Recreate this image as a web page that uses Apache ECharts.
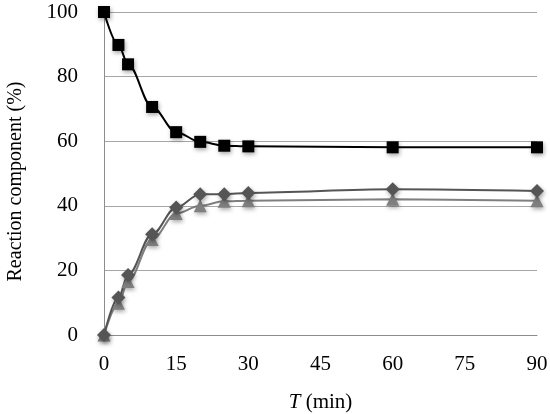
<!DOCTYPE html>
<html style="height: 100%">
<head>
<meta charset="utf-8">
<script src="https://cdn.jsdelivr.net/npm/echarts@6/dist/echarts.min.js"></script>
</head>
<body style="height: 100%; margin: 0; background: #fff">
<div id="container" style="width: 550px; height: 414px"></div>
<script type="text/javascript">
var times = [0, 3, 5, 10, 15, 20, 25, 30, 60, 90];
var squareVals = [100, 89.8, 83.8, 70.6, 62.8, 59.8, 58.6, 58.4, 58.1, 58.1];
var diamondVals = [0, 11.6, 18.6, 31.2, 39.5, 43.6, 43.6, 44.0, 45.1, 44.6];
var triangleVals = [0, 9.8, 16.6, 29.6, 37.6, 40.0, 41.4, 41.6, 42.0, 41.6];
var xTicks = [0, 15, 30, 45, 60, 75, 90];

function pairs(vals) {
    return times.map(function (t, i) { return [t, vals[i]]; });
}

var font = "'Liberation Serif', 'Times New Roman', serif";
var fs = 21;
var shadow = { shadowBlur: 4, shadowColor: 'rgba(0,0,0,0.35)', shadowOffsetX: 1, shadowOffsetY: 2 };

function makeSeries(vals, color, symbol, size) {
    return {
        type: 'line',
        data: pairs(vals),
        smooth: 0.35,
        smoothMonotone: 'x',
        symbol: symbol,
        symbolSize: size,
        showAllSymbol: true,
        lineStyle: { color: color, width: 2 },
        itemStyle: Object.assign({ color: color, opacity: 1 }, shadow),
        animation: false
    };
}

var chart = echarts.init(document.getElementById('container'));
var option = {
    backgroundColor: '#fff',
    animation: false,
    grid: { left: 104, right: 13, top: 12, bottom: 79, containLabel: false, outerBoundsMode: 'none' },
    xAxis: {
        type: 'value',
        min: 0,
        max: 90,
        interval: 15,
        name: '{i|T} (min)',
        nameLocation: 'middle',
        nameGap: 57,
        nameTextStyle: {
            fontFamily: font, fontSize: fs, color: '#000',
            rich: { i: { fontFamily: font, fontSize: fs, fontStyle: 'italic', color: '#000' } }
        },
        axisLine: { lineStyle: { color: '#8c8c8c', width: 1 } },
        axisTick: { show: false },
        splitLine: { show: false },
        axisLabel: {
            fontFamily: font, fontSize: fs, color: '#000', margin: 19,
            formatter: function (v) { return xTicks.indexOf(v) >= 0 ? String(v) : ''; }
        }
    },
    yAxis: {
        type: 'value',
        min: 0,
        max: 100,
        interval: 20,
        name: 'Reaction component (%)',
        nameLocation: 'middle',
        nameGap: 78,
        nameTextStyle: { fontFamily: font, fontSize: 20, color: '#000', padding: [0, 16, 0, 0] },
        axisLine: { show: true, lineStyle: { color: '#8c8c8c', width: 1 } },
        axisTick: { show: false },
        splitLine: { show: true, lineStyle: { color: '#a6a6a6', width: 1 } },
        axisLabel: { fontFamily: font, fontSize: fs, color: '#000', margin: 26 }
    },
    series: [
        makeSeries(triangleVals, '#7f7f7f', 'triangle', 13),
        makeSeries(diamondVals, '#555555', 'diamond', 14),
        makeSeries(squareVals, '#000000', 'rect', 12)
    ]
};
chart.setOption(option);
</script>
</body>
</html>
